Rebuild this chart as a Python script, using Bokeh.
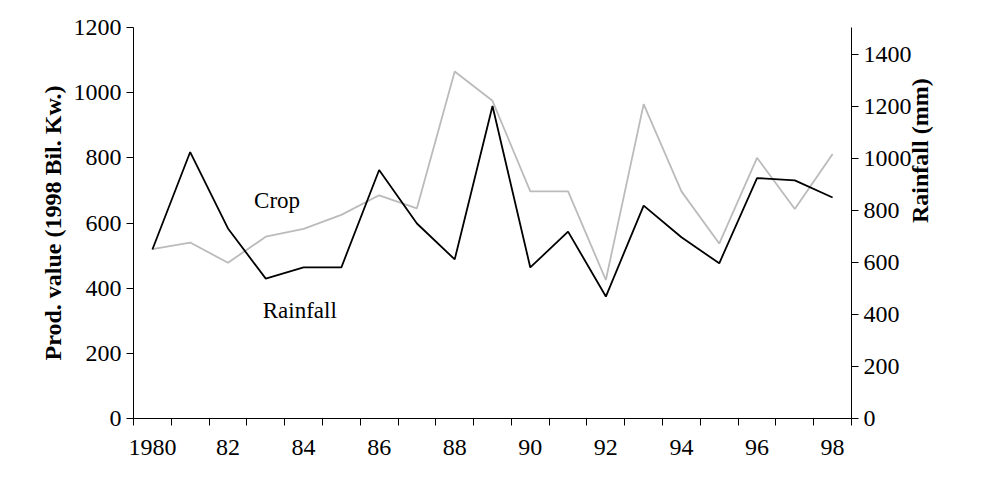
import math
from bokeh.plotting import figure
from bokeh.models import Range1d, LinearAxis, FixedTicker
from bokeh.embed import file_html
from bokeh.resources import INLINE
from bokeh.core.properties import value

years = list(range(1980, 1999))
crop = [520, 540, 478, 558, 582, 625, 685, 645, 1065, 975, 697, 697, 425, 965, 697, 537, 800, 643, 812]
rainfall = [650, 1025, 731, 538, 581, 581, 956, 750, 612, 1202, 581, 719, 469, 819, 697, 597, 925, 916, 850]
xlabels = {1980: "1980", 1982: "82", 1984: "84", 1986: "86", 1988: "88", 1990: "90", 1992: "92", 1994: "94", 1996: "96", 1998: "98"}

F = "Liberation Serif"
p = figure(width=974, height=470, output_backend="svg", toolbar_location=None,
           x_range=Range1d(1979.5, 1998.5), y_range=Range1d(0, 1200),
           min_border_left=133, min_border_right=123, min_border_top=27, min_border_bottom=52)
p.outline_line_color = None
p.xgrid.visible = False
p.ygrid.visible = False
p.extra_y_ranges = {"r": Range1d(0, 1504)}

p.line(years, crop, color="#bbbbbb", line_width=1.8)
p.line(years, rainfall, y_range_name="r", color="black", line_width=1.8)
p.text(x=[1983.3, 1983.9], y=[669, 331], text=["Crop", "Rainfall"], text_font=value(F),
       text_font_size="23px", text_align="center", text_baseline="middle", color="black")

xa = p.xaxis[0]
xa.ticker = FixedTicker(ticks=list(xlabels.keys()), minor_ticks=[y + 0.5 for y in range(1979, 1999)])
xa.major_label_overrides = xlabels
xa.major_tick_line_color = None
xa.minor_tick_out = 7
xa.minor_tick_in = 0
xa.major_label_standoff = 14

ya = p.yaxis[0]
ya.ticker = FixedTicker(ticks=list(range(0, 1201, 200)))
ya.axis_label = "Prod. value (1998 Bil. Kw.)"
ra = LinearAxis(y_range_name="r", ticker=FixedTicker(ticks=list(range(0, 1401, 200))), axis_label="Rainfall (mm)")
ra.axis_label_orientation = math.pi / 2
ra.axis_label_text_align = "center"
ra.axis_label_text_baseline = "middle"
p.add_layout(ra, "right")

for ax in [xa, ya, ra]:
    ax.axis_line_color = "black"
    ax.major_label_text_font = F
    ax.major_label_text_font_size = "24px"
    ax.major_label_text_color = "black"
    ax.axis_label_text_font = F
    ax.axis_label_text_font_size = "24px"
    ax.axis_label_text_font_style = "bold"
    ax.axis_label_text_color = "black"
for ax in [ya, ra]:
    ax.minor_tick_line_color = None
    ax.major_tick_out = 7
    ax.major_tick_in = 0
    ax.major_tick_line_color = "black"

open("out.html", "w").write(file_html(p, INLINE))
